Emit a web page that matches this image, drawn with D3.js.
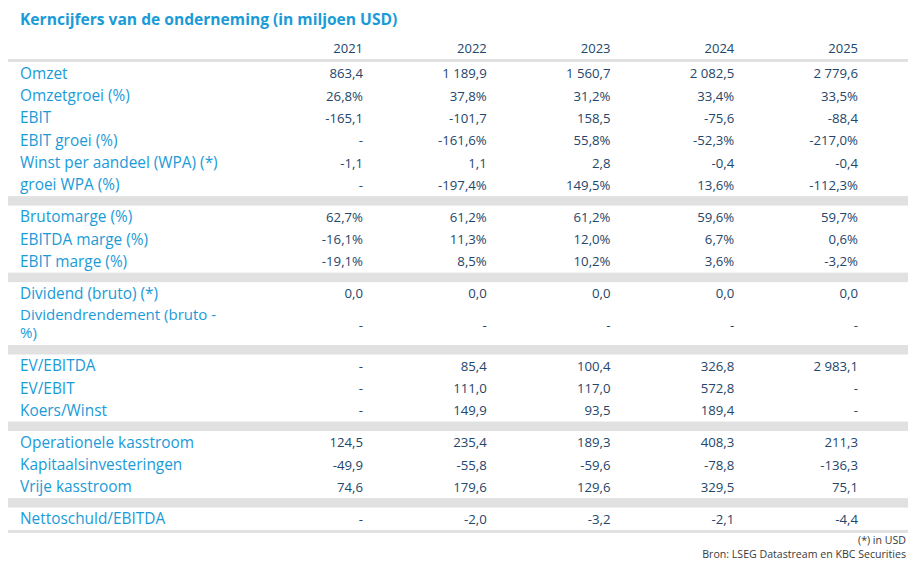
<!DOCTYPE html>
<html><head><meta charset="utf-8">
<script src="https://cdn.jsdelivr.net/npm/d3@7"></script>
<style>
html,body{margin:0;padding:0;background:#fff;}
svg{display:block;font-family:"Open Sans",sans-serif;}
</style></head>
<body><svg id="c" width="915" height="571"></svg>
<script>
const title = "Kerncijfers van de onderneming (in miljoen USD)";
const years = ["2021","2022","2023","2024","2025"];
const rowLabels = [
  "Omzet","Omzetgroei (%)","EBIT","EBIT groei (%)","Winst per aandeel (WPA) (*)","groei WPA (%)",
  "Brutomarge (%)","EBITDA marge (%)","EBIT marge (%)",
  "Dividend (bruto) (*)","Dividendrendement (bruto -|%)",
  "EV/EBITDA","EV/EBIT","Koers/Winst",
  "Operationele kasstroom","Kapitaalsinvesteringen","Vrije kasstroom",
  "Nettoschuld/EBITDA"
];
const groupSizes = [6,3,2,3,3,1];
const percentRows = [1,3,5,6,7,8];
const v2021 = [863.4,26.8,-165.1,null,-1.1,null, 62.7,-16.1,-19.1, 0.0,null, null,null,null, 124.5,-49.9,74.6, null];
const v2022 = [1189.9,37.8,-101.7,-161.6,1.1,-197.4, 61.2,11.3,8.5, 0.0,null, 85.4,111.0,149.9, 235.4,-55.8,179.6, -2.0];
const v2023 = [1560.7,31.2,158.5,55.8,2.8,149.5, 61.2,12.0,10.2, 0.0,null, 100.4,117.0,93.5, 189.3,-59.6,129.6, -3.2];
const v2024 = [2082.5,33.4,-75.6,-52.3,-0.4,13.6, 59.6,6.7,3.6, 0.0,null, 326.8,572.8,189.4, 408.3,-78.8,329.5, -2.1];
const v2025 = [2779.6,33.5,-88.4,-217.0,-0.4,-112.3, 59.7,0.6,-3.2, 0.0,null, 2983.1,null,null, 211.3,-136.3,75.1, -4.4];
const footnotes = ["(*) in USD","Bron: LSEG Datastream en KBC Securities"];

const yearValues = [v2021,v2022,v2023,v2024,v2025];
const loc = d3.formatLocale({decimal:",",thousands:"\u00a0",grouping:[3],currency:["",""],minus:"-"});
const fmt = loc.format(",.1f");

const blue = "#1a9bd8", navy = "#23466b", gray = "#e1e1e1";
const svg = d3.select("#c");
const left = 8, right = 908, labelX = 20;
const x = d3.scalePoint().domain(years).range([363, 858]);

svg.append("text").attr("x",labelX).attr("y",25).attr("fill",blue)
  .attr("font-size",15.6).attr("font-weight",700).text(title);

svg.selectAll(".yr").data(years).join("text")
  .attr("x",d=>x(d)).attr("y",53).attr("text-anchor","end")
  .attr("fill",navy).attr("font-size",13).text(d=>d);

svg.append("rect").attr("x",left).attr("y",59).attr("width",right-left).attr("height",3).attr("fill",gray);

const rowH = 22.35, sepH = 9.5, twoLineH = 40.5;
let y = 62, idx = 0;
groupSizes.forEach((n,gi)=>{
  for(let k=0;k<n;k++,idx++){
    const lab = rowLabels[idx];
    const lines = lab.split("|");
    const h = lines.length>1 ? twoLineH : rowH;
    const cy = y + h/2;
    if(lines.length>1){
      lines.forEach((ln,li)=>svg.append("text").attr("fill",blue).attr("font-size",15)
        .attr("x",labelX).attr("y", y + 15 + li*18.5).text(ln));
    } else {
      svg.append("text").attr("fill",blue).attr("font-size",15.4)
        .attr("x",labelX).attr("y",cy+5.5).text(lab);
    }
    years.forEach((yr,yi)=>{
      const v = yearValues[yi][idx];
      const s = v==null ? "-" : fmt(v) + (percentRows.includes(idx)?"%":"");
      svg.append("text").attr("x",x(yr)).attr("y",cy+5).attr("text-anchor","end")
        .attr("fill",navy).attr("font-size",13.2).text(s);
    });
    y += h;
  }
  if(gi < groupSizes.length-1){
    svg.append("rect").attr("x",left).attr("y",y).attr("width",right-left).attr("height",sepH).attr("fill",gray);
    y += sepH;
  } else {
    svg.append("rect").attr("x",left).attr("y",y).attr("width",right-left).attr("height",3).attr("fill",gray);
  }
});

footnotes.forEach((f,i)=>{
  svg.append("text").attr("x",906).attr("y",544+i*13.6).attr("text-anchor","end")
    .attr("fill","#3a3a3a").attr("font-size",10.6).text(f);
});
</script></body></html>
